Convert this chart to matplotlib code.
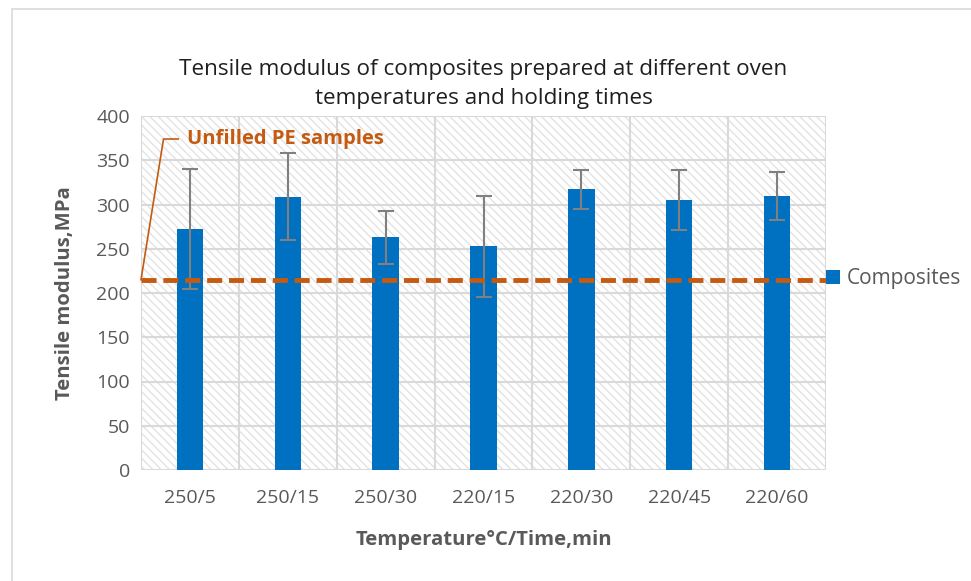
import matplotlib.pyplot as plt
import matplotlib.patches as mpatches
import numpy as np

plt.rcParams['font.family'] = ['Open Sans', 'DejaVu Sans']
plt.rcParams['hatch.color'] = '#E3E3E3'
plt.rcParams['hatch.linewidth'] = 1.0

# data
labels = ['250/5', '250/15', '250/30', '220/15', '220/30', '220/45', '220/60']
modulus = [272, 309, 263, 253, 317, 305, 310]
err = [68, 49, 30, 57, 22, 34, 27]
unfilled_pe = 215

gray = '#595959'
blue = '#0070C0'
orange = '#C55A11'

fig = plt.figure(figsize=(9.71, 5.81), dpi=100)
ax = fig.add_axes([141 / 971, 111 / 581, 685 / 971, 354 / 581])

# frame around the whole chart
fig.patches.append(mpatches.Rectangle((12 / 971, -0.1), 1.2, (581 - 9) / 581 + 0.1,
                                      transform=fig.transFigure, fill=False,
                                      edgecolor='#D9D9D9', linewidth=1.2))

x = np.arange(len(labels))
ax.set_xlim(-0.5, len(labels) - 0.5)
ax.set_ylim(0, 400)

# hatched plot area
ax.add_patch(mpatches.Rectangle((0, 0), 1, 1, transform=ax.transAxes,
                                facecolor='white', hatch='\\\\\\\\',
                                linewidth=0, zorder=0))
for xv in np.arange(-0.5, len(labels), 1):
    ax.axvline(xv, color='#D9D9D9', lw=1.5, zorder=1)
for yv in range(0, 401, 50):
    ax.axhline(yv, color='#D9D9D9', lw=1.5, zorder=1)

ax.bar(x, modulus, width=0.27, color=blue, zorder=2, label='Composites')
ax.errorbar(x, modulus, yerr=err, fmt='none', ecolor='#808080', elinewidth=1.5,
            capsize=5.5, capthick=1.5, zorder=3)

ax.axhline(unfilled_pe, color=orange, lw=3.5, ls=(0, (3.1, 1.4)), zorder=4)

# callout for the unfilled PE line
ax.plot([-0.5, -0.27, -0.12], [unfilled_pe, 374, 374], color=orange, lw=1.2,
        clip_on=False, zorder=4)
ax.text(-0.03, 374, 'Unfilled PE samples', color=orange, fontsize=14.5,
        fontweight='bold', va='center', ha='left', zorder=5)

for s in ax.spines.values():
    s.set_visible(False)
ax.set_xticks(x)
ax.set_xticklabels(labels)
ax.set_yticks(range(0, 401, 50))
ax.tick_params(length=0, labelsize=14, colors=gray, pad=8)
ax.tick_params(axis='x', pad=14)

ax.set_xlabel('Temperature°C/Time,min', fontsize=14.6, fontweight='bold',
              color=gray, labelpad=16)
ax.set_ylabel('Tensile modulus,MPa', fontsize=14.6, fontweight='bold',
              color=gray, labelpad=15)
ax.set_title('Tensile modulus of composites prepared at different oven\n'
             'temperatures and holding times', fontsize=16.2, color='#1F1F1F',
             pad=9, linespacing=1.5)

leg = ax.legend(loc='center left', bbox_to_anchor=(1.0, 0.54), frameon=False,
                fontsize=15, handlelength=0.65, handleheight=0.65,
                handletextpad=0.35, borderaxespad=0, borderpad=0)
for t in leg.get_texts():
    t.set_color(gray)

fig.savefig('out.png', dpi=100)
